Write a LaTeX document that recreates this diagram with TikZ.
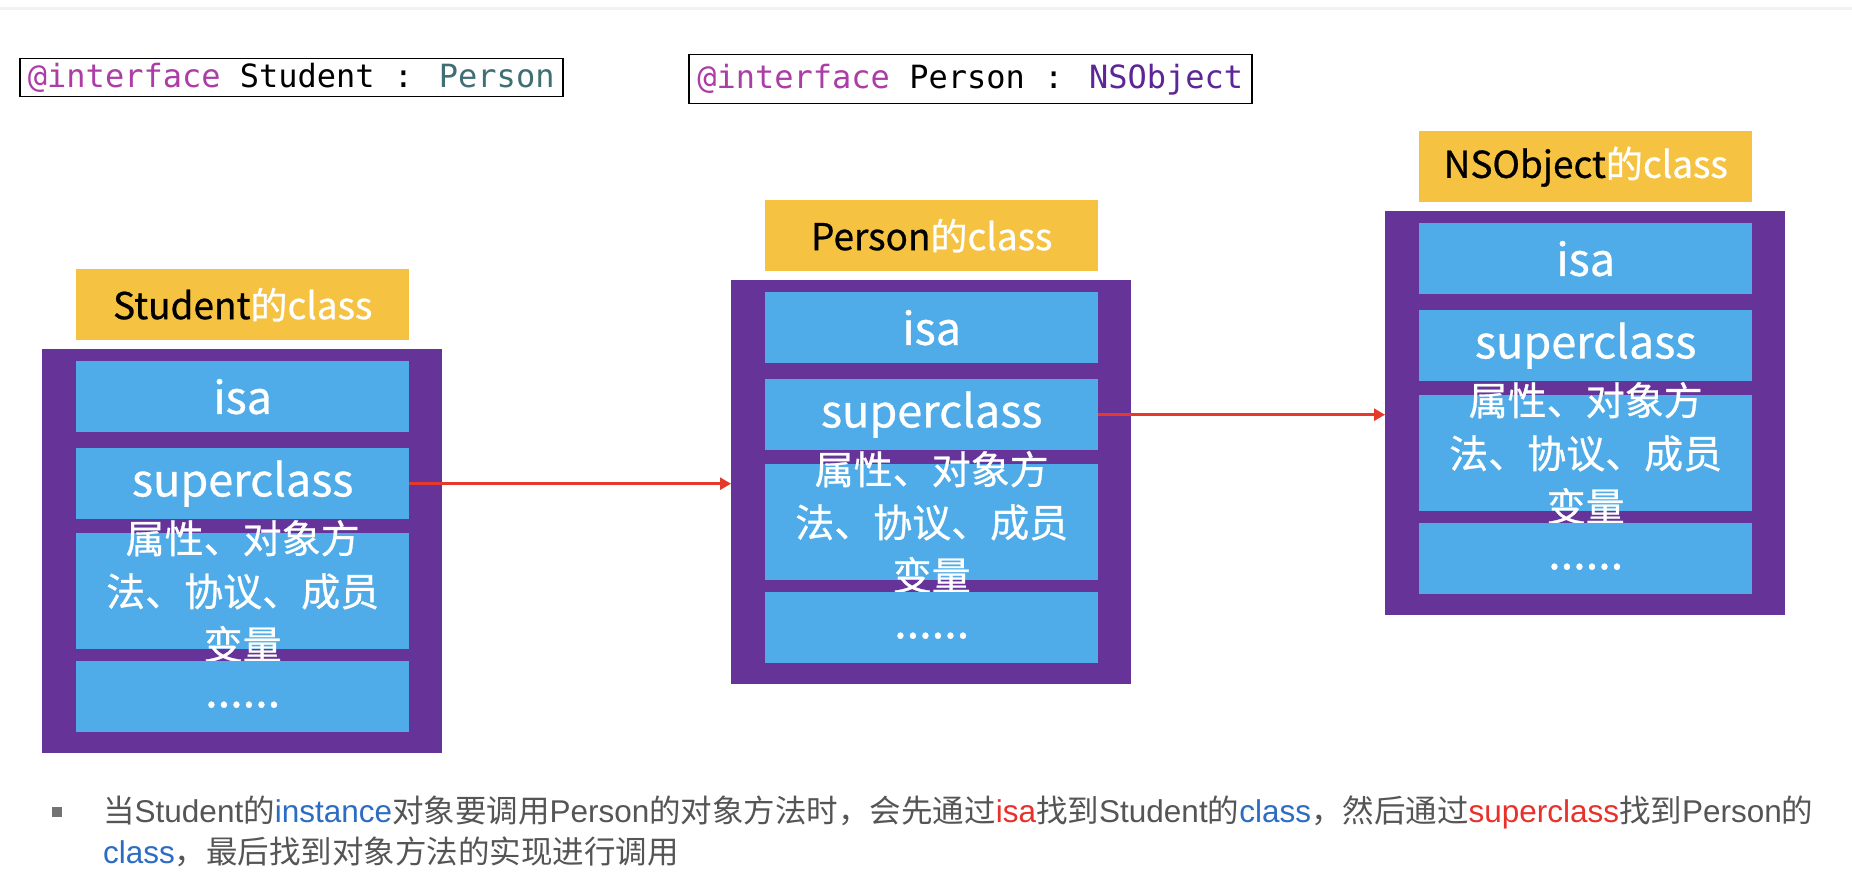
\documentclass[tikz,border=0pt]{standalone}
\usepackage{fontspec}
\setmainfont{Liberation Sans}
\newfontfamily\cjk{Noto Sans CJK SC}
\newfontfamily\cjkm{Noto Sans CJK SC}[FakeBold=0.7]
\newfontfamily\codefont{DejaVu Sans Mono}
\usetikzlibrary{arrows.meta}
\definecolor{cyellow}{HTML}{F5C242}
\definecolor{cpurple}{HTML}{663399}
\definecolor{cblue}{HTML}{4FACE9}
\definecolor{cred}{HTML}{E5392B}
\definecolor{ckey}{HTML}{AD3DA6}
\definecolor{cteal}{HTML}{3F6E74}
\definecolor{csys}{HTML}{5C2699}
\definecolor{cgray}{HTML}{555555}
\definecolor{clink}{HTML}{2C6CC2}
\definecolor{ctxtred}{HTML}{E8312A}
\newcommand\zh[1]{{\cjk #1}}
\tikzset{
  yellowbox/.style={fill=cyellow, inner sep=0, anchor=north west, minimum width=333pt, minimum height=71pt,
    text=white, font=\cjkm\fontsize{37}{44}\selectfont},
  purplebox/.style={fill=cpurple, inner sep=0, anchor=north west, minimum width=400pt, minimum height=404pt},
  bluebox/.style={fill=cblue, inner sep=0, anchor=north west, minimum width=333pt, minimum height=71pt,
    text=white, font=\cjkm\fontsize{45}{54}\selectfont},
  dotstext/.style={inner sep=0, text=white, font=\cjkm\fontsize{45}{54}\selectfont},
  proptext/.style={inner sep=0, align=center, text=white, font=\cjkm\fontsize{39}{53}\selectfont},
  codebox/.style={draw=black, line width=1.5pt, inner sep=0, anchor=north west, font=\codefont\fontsize{32}{38}\selectfont},
  redarrow/.style={draw=cred, line width=2.6pt, -{Triangle[length=11pt,width=12pt]}},
  bodytext/.style={inner sep=0, anchor=base west, text=cgray, font=\fontsize{31.5}{38}\selectfont},
}
\newcommand\classcol[4]{%
  \node[yellowbox] (#1-label) at ({#2+34},{#3}) {{\color{black}#4}的class};
  \node[purplebox] (#1-purple) at ({#2},{#3+80}) {};
  \node[bluebox, minimum height=116pt] (#1-props) at ({#2+34},{#3+264}) {};
  \node[proptext] (#1-text) at (#1-props.center) {属性、对象方\\法、协议、成员\\变量};
  \node[bluebox] (#1-isa) at ({#2+34},{#3+92}) {isa};
  \node[bluebox] (#1-sup) at ({#2+34},{#3+179}) {superclass};
  \node[bluebox] (#1-dots) at ({#2+34},{#3+392}) {};
  \node[dotstext] (#1-dotstext) at ([yshift=-8pt]#1-dots.center) {......};
}
\begin{document}
\begin{tikzpicture}[x=1pt,y=-1pt]
\useasboundingbox (0,0) rectangle (1852,880);
\fill[white] (0,0) rectangle (1852,880);
\fill[black!5] (0,7) rectangle (1852,10);

\node[codebox, minimum width=543pt, minimum height=38pt] (code1) at (19,58)
  {{\color{ckey}@interface} Student : {\color{cteal}Person}};
\node[codebox, minimum width=563pt, minimum height=49pt] (code2) at (688,54)
  {{\color{ckey}@interface} Person : {\color{csys}NSObject}};

\classcol{s}{42}{269}{Student}
\classcol{p}{731}{200}{Person}
\classcol{n}{1385}{131}{NSObject}

\draw[redarrow] (s-sup.east) -- (p-purple.west |- s-sup.east);
\draw[redarrow] (p-sup.east) -- (n-purple.west |- p-sup.east);

\node[fill=black!55, minimum width=10pt, minimum height=10pt, inner sep=0] (bullet) at (57,812) {};
\node[bodytext] (line1) at (103,822) {\zh{当}Student\zh{的}{\color{clink}instance}\zh{对象要调用}Person\zh{的对象方法时，会先通过}{\color{ctxtred}isa}\zh{找到}Student\zh{的}{\color{clink}class}\zh{，然后通过}{\color{ctxtred}superclass}\zh{找到}Person\zh{的}};
\node[bodytext] (line2) at (103,863) {{\color{clink}class}\zh{，最后找到对象方法的实现进行调用}};
\end{tikzpicture}
\end{document}
